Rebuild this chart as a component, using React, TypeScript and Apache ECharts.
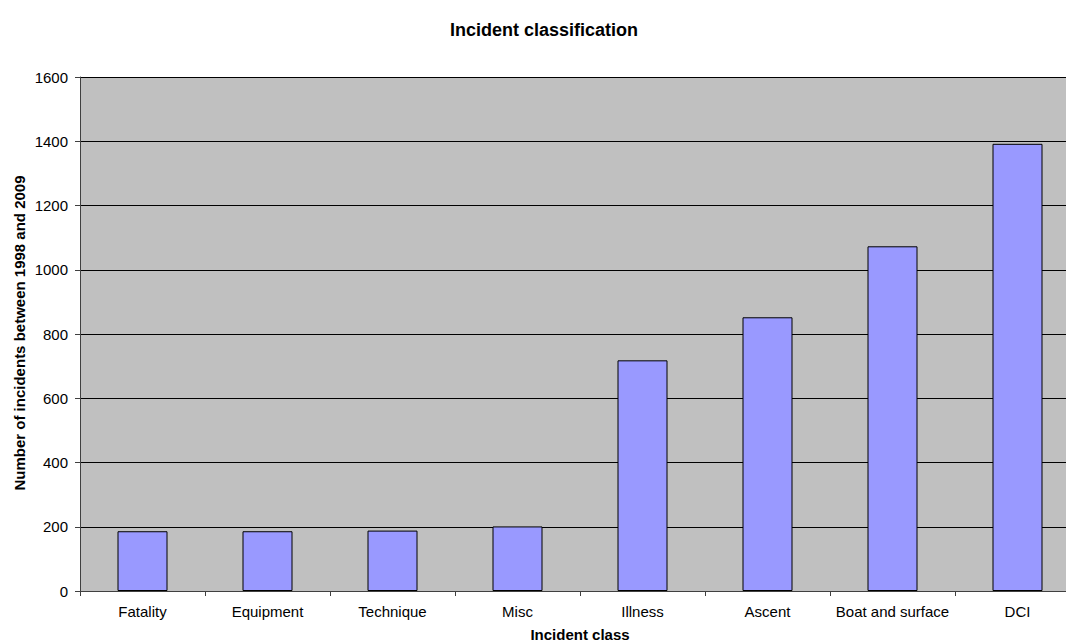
import React, { useEffect, useRef } from "react";
import * as echarts from "echarts";

const categories = ["Fatality", "Equipment", "Technique", "Misc", "Illness", "Ascent", "Boat and surface", "DCI"];
const incidents = [186, 186, 188, 201, 718, 852, 1073, 1392];
const titleText = "Incident classification";
const xTitle = "Incident class";
const yTitle = "Number of incidents between 1998 and 2009";

export default function App() {
  const ref = useRef<HTMLDivElement>(null);
  useEffect(() => {
    document.body.style.margin = "0";
    document.body.style.overflow = "hidden";
    const chart = echarts.init(ref.current!, null, { renderer: "svg" });
    const font = "Liberation Sans, Arial, sans-serif";
    chart.setOption({
      animation: false,
      backgroundColor: "#ffffff",
      textStyle: { fontFamily: font },
      grid: {
        left: 80,
        right: 0,
        top: 77,
        bottom: 53,
        show: true,
        backgroundColor: "#c0c0c0",
        borderWidth: 0,
      },
      xAxis: {
        type: "category",
        data: categories,
        axisLine: { lineStyle: { color: "#404040", width: 1 } },
        axisTick: { show: true, alignWithLabel: false, length: 5, lineStyle: { color: "#404040" } },
        axisLabel: { color: "#000", fontSize: 15, margin: 13, fontFamily: font, interval: 0 },
      },
      yAxis: {
        type: "value",
        min: 0,
        max: 1600,
        interval: 200,
        axisLine: { show: true, lineStyle: { color: "#404040", width: 1 } },
        axisTick: { show: true, length: 5, lineStyle: { color: "#404040" } },
        axisLabel: {
          color: "#000",
          fontSize: 15,
          margin: 12,
          fontFamily: font,
          formatter: (v: number) => String(v),
        },
        splitLine: { show: true, lineStyle: { color: "#000", width: 1 } },
      },
      series: [
        {
          type: "bar",
          data: incidents,
          barWidth: "40%",
          itemStyle: { color: "#9999ff", borderColor: "#000", borderWidth: 1 },
        },
      ],
      graphic: [
        {
          type: "text",
          x: 544,
          y: 30,
          style: {
            text: titleText,
            fill: "#000",
            font: `bold 18px ${font}`,
            align: "center",
            verticalAlign: "middle",
          },
        },
        {
          type: "text",
          x: 580,
          y: 634,
          style: {
            text: xTitle,
            fill: "#000",
            font: `bold 15px ${font}`,
            align: "center",
            verticalAlign: "middle",
          },
        },
        {
          type: "text",
          x: 19,
          y: 333,
          rotation: Math.PI / 2,
          style: {
            text: yTitle,
            fill: "#000",
            font: `bold 15px ${font}`,
            align: "center",
            verticalAlign: "middle",
          },
        },
      ],
    });
    return () => chart.dispose();
  }, []);
  return <div ref={ref} style={{ width: 1080, height: 644 }} />;
}
